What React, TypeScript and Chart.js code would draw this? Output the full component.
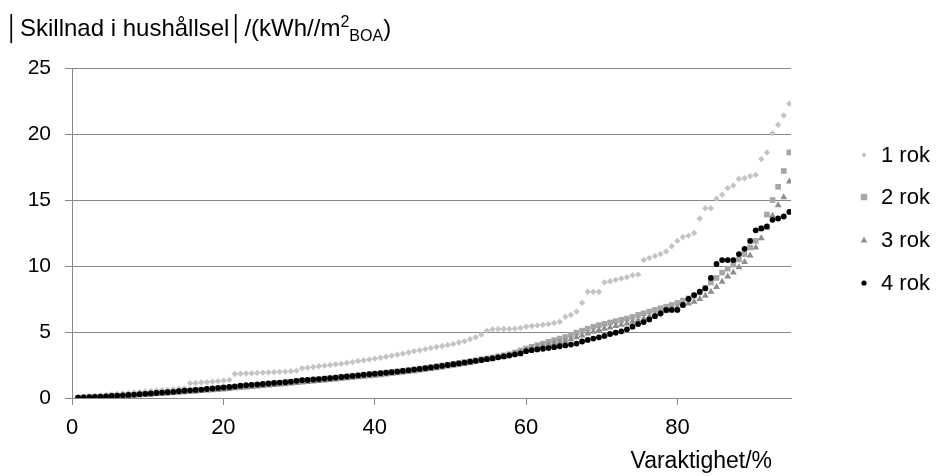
import React, { useEffect, useRef } from 'react';
import { Chart, registerables } from 'chart.js';

Chart.register(...registerables);

// x grid (Varaktighet/%): evenly spaced samples
const X_START = 0.8;
const X_STEP = 0.74;

const seriesLabels = ['1 rok', '2 rok', '3 rok', '4 rok'];
const xTickValues = [0, 20, 40, 60, 80];
const yTickValues = [0, 5, 10, 15, 20, 25];

const rok1 = [
  0.05, 0.08, 0.11, 0.14, 0.18, 0.22, 0.26, 0.3, 0.34, 0.38,
  0.42, 0.46, 0.5, 0.54, 0.57, 0.6, 0.63, 0.66, 0.7, 0.73,
  1.11, 1.14, 1.17, 1.2, 1.24, 1.28, 1.32, 1.36, 1.82, 1.84,
  1.86, 1.88, 1.9, 1.92, 1.94, 1.96, 1.98, 2.0, 2.03, 2.07,
  2.25, 2.3, 2.35, 2.4, 2.45, 2.5, 2.55, 2.6, 2.66, 2.72,
  2.8, 2.86, 2.92, 2.98, 3.05, 3.12, 3.2, 3.28, 3.36, 3.45,
  3.55, 3.62, 3.7, 3.78, 3.86, 3.94, 4.02, 4.1, 4.2, 4.3,
  4.45, 4.6, 4.8, 5.1, 5.2, 5.23, 5.23, 5.23, 5.25, 5.3,
  5.4, 5.45, 5.5, 5.55, 5.6, 5.68, 5.78, 6.16, 6.29, 6.54,
  7.22, 8.05, 8.05, 8.05, 8.76, 8.85, 8.95, 9.05, 9.15, 9.3,
  9.35, 10.45, 10.6, 10.75, 10.9, 11.1, 11.5, 11.9, 12.2, 12.3,
  12.5, 13.6, 14.37, 14.37, 15.1, 15.4, 15.9, 16.1, 16.6, 16.65,
  16.8, 16.9, 18.1, 18.6, 20.05, 20.7, 21.4, 22.3,
];

const rok2 = [
  0.02, 0.04, 0.06, 0.08, 0.1, 0.12, 0.14, 0.16, 0.18, 0.21,
  0.24, 0.27, 0.3, 0.33, 0.36, 0.39, 0.42, 0.45, 0.48, 0.52,
  0.55, 0.58, 0.61, 0.65, 0.68, 0.72, 0.76, 0.8, 0.84, 0.88,
  0.92, 0.96, 1.0, 1.03, 1.07, 1.11, 1.15, 1.19, 1.23, 1.27,
  1.31, 1.35, 1.39, 1.43, 1.47, 1.51, 1.55, 1.59, 1.63, 1.67,
  1.71, 1.75, 1.79, 1.83, 1.87, 1.92, 1.97, 2.02, 2.07, 2.12,
  2.17, 2.22, 2.28, 2.34, 2.4, 2.46, 2.52, 2.58, 2.65, 2.72,
  2.79, 2.86, 2.93, 3.0, 3.07, 3.15, 3.23, 3.31, 3.45, 3.6,
  3.75, 3.88, 4.0, 4.12, 4.25, 4.38, 4.5, 4.62, 4.78, 4.95,
  5.1, 5.25, 5.4, 5.52, 5.62, 5.72, 5.82, 5.92, 6.02, 6.15,
  6.3, 6.42, 6.55, 6.68, 6.8, 6.92, 7.05, 7.2, 7.38, 7.55,
  7.75, 8.0, 8.35, 8.75, 9.1, 9.5, 9.8, 10.1, 10.5, 10.9,
  11.4, 11.9, 12.85, 13.9, 15.0, 16.0, 17.2, 18.6,
];

const rok3 = [
  0.02, 0.03, 0.05, 0.07, 0.09, 0.1, 0.11, 0.13, 0.15, 0.16,
  0.18, 0.21, 0.24, 0.27, 0.3, 0.32, 0.35, 0.38, 0.41, 0.44,
  0.47, 0.5, 0.53, 0.56, 0.59, 0.62, 0.65, 0.69, 0.73, 0.77,
  0.8, 0.84, 0.87, 0.9, 0.94, 0.98, 1.02, 1.05, 1.09, 1.13,
  1.17, 1.21, 1.25, 1.29, 1.33, 1.37, 1.41, 1.45, 1.49, 1.53,
  1.57, 1.61, 1.65, 1.69, 1.73, 1.78, 1.83, 1.88, 1.93, 1.98,
  2.03, 2.08, 2.14, 2.2, 2.26, 2.32, 2.38, 2.44, 2.51, 2.58,
  2.66, 2.74, 2.82, 2.9, 2.98, 3.06, 3.15, 3.24, 3.34, 3.46,
  3.62, 3.72, 3.82, 3.92, 4.02, 4.12, 4.22, 4.33, 4.46, 4.6,
  4.74, 4.88, 5.02, 5.15, 5.25, 5.35, 5.45, 5.55, 5.65, 5.77,
  5.9, 6.03, 6.16, 6.3, 6.44, 6.58, 6.72, 6.86, 7.0, 7.15,
  7.3, 7.5, 7.75, 8.05, 8.4, 8.8, 9.2, 9.5, 9.9, 10.3,
  10.8, 11.4, 12.1, 12.9, 13.8, 14.6, 15.2, 16.4,
];

const rok4 = [
  0.03, 0.05, 0.07, 0.09, 0.11, 0.13, 0.15, 0.17, 0.2, 0.23,
  0.26, 0.29, 0.32, 0.35, 0.38, 0.41, 0.44, 0.47, 0.51, 0.55,
  0.58, 0.61, 0.64, 0.68, 0.72, 0.76, 0.8, 0.84, 0.88, 0.93,
  0.97, 1.0, 1.03, 1.06, 1.1, 1.14, 1.17, 1.2, 1.24, 1.3,
  1.35, 1.37, 1.4, 1.43, 1.47, 1.51, 1.55, 1.59, 1.63, 1.67,
  1.72, 1.76, 1.8, 1.84, 1.88, 1.92, 1.96, 2.0, 2.05, 2.1,
  2.15, 2.2, 2.26, 2.32, 2.38, 2.44, 2.5, 2.56, 2.62, 2.68,
  2.75, 2.82, 2.88, 2.94, 3.0, 3.08, 3.15, 3.22, 3.3, 3.38,
  3.55, 3.62, 3.68, 3.73, 3.78, 3.85, 3.92, 3.98, 4.05, 4.12,
  4.28, 4.4, 4.5, 4.6, 4.7, 4.85, 4.95, 5.05, 5.2, 5.4,
  5.6, 5.75, 5.95, 6.2, 6.4, 6.67, 6.67, 6.67, 7.05, 7.5,
  7.8, 8.05, 8.3, 9.1, 10.15, 10.45, 10.45, 10.45, 10.9, 11.3,
  11.9, 12.7, 12.85, 13.0, 13.5, 13.6, 13.75, 14.1,
];

const seriesValues = [rok1, rok2, rok3, rok4];
const seriesColors = ['#c4c4c4', '#a6a6a6', '#8e8e8e', '#000000'];
const seriesStyles = ['rectRot', 'rect', 'triangle', 'circle'];
const seriesRadius = [3.2, 4, 4, 2.9];

const FONT = '"Liberation Sans", Arial, Helvetica, sans-serif';

function toPoints(ys: number[]) {
  return ys.map((y, i) => ({ x: Math.round((X_START + X_STEP * i) * 100) / 100, y }));
}

function drawMarker(ctx: CanvasRenderingContext2D, style: string, x: number, y: number, r: number, color: string) {
  ctx.fillStyle = color;
  ctx.beginPath();
  if (style === 'rectRot') {
    ctx.moveTo(x, y - r);
    ctx.lineTo(x + r, y);
    ctx.lineTo(x, y + r);
    ctx.lineTo(x - r, y);
    ctx.closePath();
  } else if (style === 'rect') {
    ctx.rect(x - r, y - r, 2 * r, 2 * r);
  } else if (style === 'triangle') {
    ctx.moveTo(x, y - r * 1.1);
    ctx.lineTo(x + r, y + r * 0.75);
    ctx.lineTo(x - r, y + r * 0.75);
    ctx.closePath();
  } else {
    ctx.arc(x, y, r, 0, Math.PI * 2);
  }
  ctx.fill();
}

const decorPlugin = {
  id: 'decor',
  afterDraw(chart: any) {
    const ctx: CanvasRenderingContext2D = chart.ctx;
    ctx.save();
    ctx.fillStyle = '#000';
    ctx.textAlign = 'left';
    ctx.textBaseline = 'alphabetic';

    // Y-axis title with superscript / subscript
    const big = `24px ${FONT}`;
    const small = `16px ${FONT}`;
    const parts = [
      { t: '│Skillnad i hushållsel│/(kWh//m', f: big, dy: 0 },
      { t: '2', f: small, dy: -9 },
      { t: 'BOA', f: small, dy: 5 },
      { t: ')', f: big, dy: 0 },
    ];
    let x = 5;
    const base = 36;
    for (const p of parts) {
      ctx.font = p.f;
      ctx.fillText(p.t, x, base + p.dy);
      x += ctx.measureText(p.t).width;
    }

    // X-axis title
    ctx.font = `23px ${FONT}`;
    ctx.textAlign = 'right';
    ctx.fillText('Varaktighet/%', 772, 468);

    // Legend
    ctx.textAlign = 'left';
    ctx.textBaseline = 'middle';
    ctx.font = `22px ${FONT}`;
    const ly = [155, 197, 240, 283];
    const lr = [2.6, 3.2, 3.2, 2.6];
    for (let i = 0; i < seriesLabels.length; i++) {
      drawMarker(ctx, seriesStyles[i], 864, ly[i], lr[i], seriesColors[i]);
      ctx.fillStyle = '#000';
      ctx.fillText(seriesLabels[i], 881, ly[i] + 1);
    }
    ctx.restore();
  },
};

export default function App() {
  const ref = useRef<HTMLCanvasElement | null>(null);

  useEffect(() => {
    document.body.style.margin = '0';
    const canvas = ref.current;
    if (!canvas) return;
    const datasets = seriesValues.map((vals, i) => ({
      label: seriesLabels[i],
      data: toPoints(vals),
      pointStyle: seriesStyles[i] as any,
      pointRadius: seriesRadius[i],
      pointBackgroundColor: seriesColors[i],
      pointBorderColor: seriesColors[i],
      pointBorderWidth: 0,
      showLine: false,
      order: 4 - i,
    }));
    const chart = new Chart(canvas, {
      type: 'scatter',
      data: { datasets },
      plugins: [decorPlugin],
      options: {
        animation: false,
        responsive: true,
        maintainAspectRatio: false,
        devicePixelRatio: 1,
        layout: { padding: { top: 68, right: 146, left: 0, bottom: 0 } },
        plugins: {
          legend: { display: false },
          tooltip: { enabled: false },
          title: { display: false },
        },
        scales: {
          x: {
            type: 'linear',
            min: 0,
            max: 95,
            afterFit: (s: any) => { s.height = 78; },
            afterBuildTicks: (s: any) => { s.ticks = xTickValues.map((v) => ({ value: v })); },
            ticks: {
              includeBounds: false,
              color: '#000',
              font: { family: FONT, size: 22 },
              padding: 10,
              maxRotation: 0,
            },
            grid: {
              drawOnChartArea: false,
              drawTicks: true,
              tickLength: 7,
              color: '#888888',
              lineWidth: 1,
            },
            border: { display: true, color: '#888888', width: 1 },
          },
          y: {
            type: 'linear',
            min: 0,
            max: 25,
            afterFit: (s: any) => { s.width = 72; },
            afterBuildTicks: (s: any) => { s.ticks = yTickValues.map((v) => ({ value: v })); },
            ticks: {
              color: '#000',
              font: { family: FONT, size: 21 },
              padding: 14,
            },
            grid: {
              drawTicks: true,
              tickLength: 7,
              color: '#888888',
              lineWidth: 1,
            },
            border: { display: true, color: '#888888', width: 1 },
          },
        },
      },
    });
    return () => chart.destroy();
  }, []);

  return (
    <div style={{ position: 'fixed', left: 0, top: 0, width: 937, height: 476, background: '#fff' }}>
      <canvas ref={ref} />
    </div>
  );
}
